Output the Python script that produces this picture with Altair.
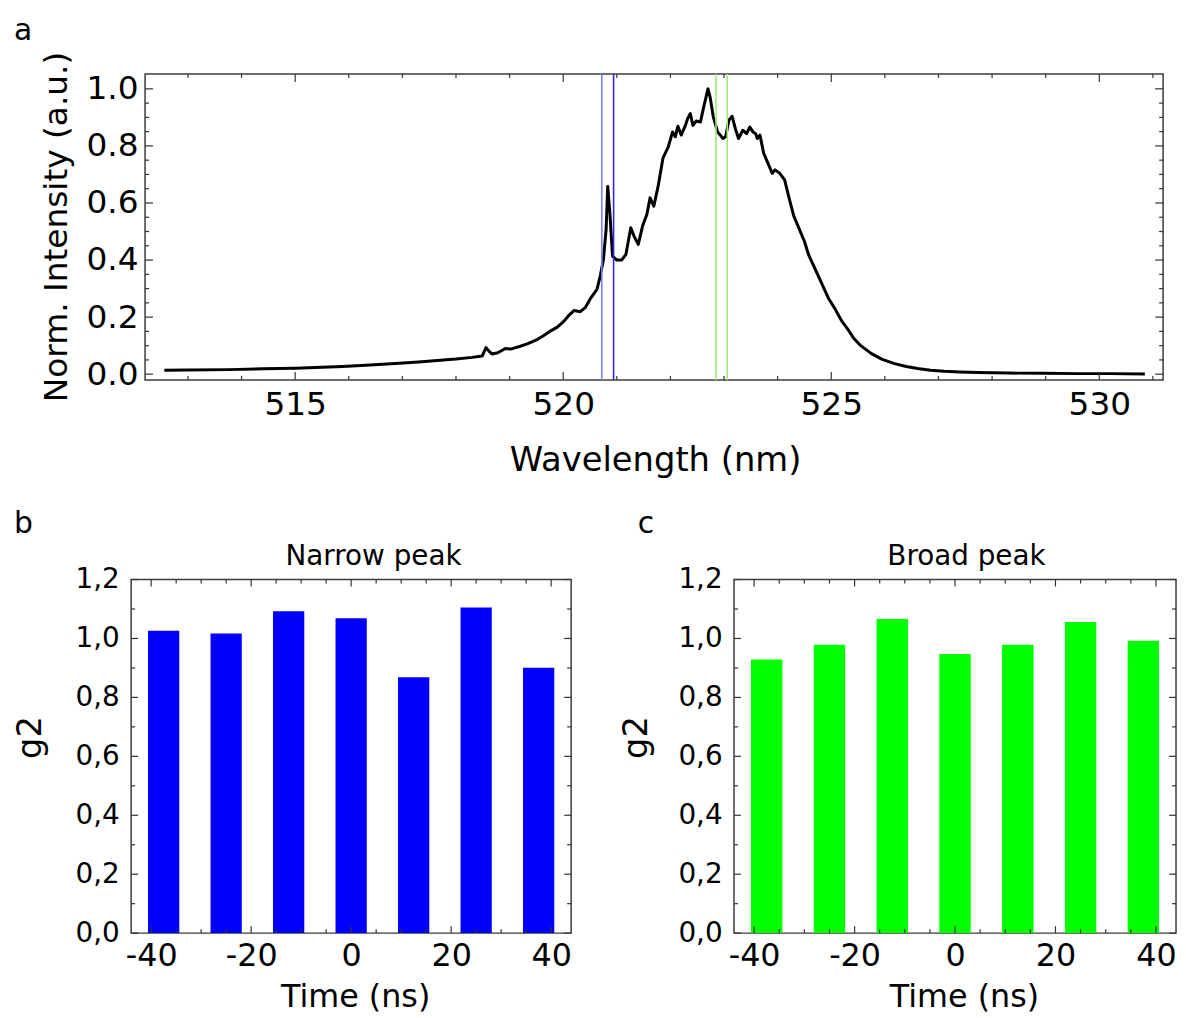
import altair as alt
import pandas as pd

# ---------------- data ----------------
wavelength = [512.56, 513.0, 513.76, 514.4, 515.0, 515.5, 515.88, 516.4, 516.94, 517.3,
              517.65, 518.0, 518.3, 518.49, 518.56, 518.62, 518.67, 518.78, 518.92, 519.02,
              519.2, 519.34, 519.5, 519.63, 519.75, 519.89, 520.01, 520.1, 520.2, 520.32,
              520.41, 520.5, 520.63, 520.69, 520.75, 520.80, 520.83, 520.87, 520.92, 521.00,
              521.09, 521.17, 521.26, 521.32, 521.40, 521.48, 521.56, 521.62, 521.69, 521.77,
              521.86, 521.96, 522.04, 522.09, 522.14, 522.20, 522.28, 522.32, 522.37, 522.42,
              522.48, 522.56, 522.62, 522.70, 522.74, 522.80, 522.88, 522.98, 523.03, 523.09,
              523.15, 523.21, 523.27, 523.35, 523.42, 523.48, 523.54, 523.59, 523.62, 523.67,
              523.74, 523.84, 523.90, 523.95, 524.04, 524.13, 524.21, 524.30, 524.40, 524.50,
              524.58, 524.70, 524.83, 524.95, 525.07, 525.2, 525.3, 525.41, 525.55, 525.75,
              525.95, 526.18, 526.4, 526.61, 526.85, 527.11, 527.4, 527.73, 528.3, 528.96,
              529.6, 530.20, 530.85]
intensity = [0.014, 0.015, 0.016, 0.019, 0.021, 0.024, 0.027, 0.032, 0.038, 0.043,
             0.048, 0.053, 0.059, 0.064, 0.093, 0.080, 0.071, 0.075, 0.090, 0.088,
             0.098, 0.107, 0.120, 0.135, 0.150, 0.165, 0.185, 0.205, 0.223, 0.219,
             0.233, 0.263, 0.297, 0.344, 0.402, 0.507, 0.658, 0.565, 0.414, 0.400,
             0.400, 0.420, 0.513, 0.484, 0.455, 0.519, 0.560, 0.618, 0.589, 0.658,
             0.757, 0.797, 0.849, 0.832, 0.869, 0.838, 0.872, 0.895, 0.913, 0.872,
             0.887, 0.884, 0.936, 1.000, 0.971, 0.901, 0.849, 0.826, 0.832, 0.890,
             0.904, 0.861, 0.826, 0.855, 0.843, 0.866, 0.849, 0.843, 0.826, 0.838,
             0.774, 0.730, 0.704, 0.716, 0.704, 0.681, 0.620, 0.555, 0.510, 0.465,
             0.417, 0.368, 0.315, 0.265, 0.229, 0.185, 0.160, 0.128, 0.100, 0.072,
             0.052, 0.037, 0.027, 0.020, 0.014, 0.010, 0.008, 0.006, 0.004, 0.003,
             0.002, 0.002, 0.001]

filter_lines_wl = [520.72, 520.94, 522.85, 523.06]
filter_lines_color = ["#7f7fff", "#2a2aff", "#a6e880", "#a6e880"]

time_ns = [-37.5, -25.0, -12.5, 0.0, 12.5, 25.0, 37.5]
g2_narrow = [1.026, 1.017, 1.092, 1.069, 0.868, 1.105, 0.901]
g2_broad = [0.929, 0.979, 1.066, 0.947, 0.979, 1.056, 0.992]

wl_major = [515, 520, 525, 530]
wl_minor = [513, 514, 516, 517, 518, 519, 521, 522, 523, 524, 526, 527, 528, 529, 531]
int_major = [0.0, 0.2, 0.4, 0.6, 0.8, 1.0]
int_minor = [0.05, 0.1, 0.15, 0.25, 0.3, 0.35, 0.45, 0.5, 0.55, 0.65, 0.7, 0.75, 0.85, 0.9, 0.95]
t_major = [-40, -20, 0, 20, 40]
t_minor = [-35, -30, -25, -15, -10, -5, 5, 10, 15, 25, 30, 35]
g2_major = [0.0, 0.2, 0.4, 0.6, 0.8, 1.0, 1.2]
g2_minor = [0.1, 0.3, 0.5, 0.7, 0.9, 1.1]

FONT = "DejaVu Sans"
LFONT = "DejaVu Sans"
TICK = "#333333"


def text_layer(s, x, y, size, font=FONT, angle=0, align="center"):
    return alt.Chart(pd.DataFrame({"s": [s]})).mark_text(
        font=font, fontSize=size, angle=angle, align=align, baseline="alphabetic", color="black"
    ).encode(x=alt.value(x), y=alt.value(y), text="s:N")


def anchor_layer(x, y0, y1):
    # invisible layout anchor (fixes the panel's outer bounds)
    return alt.Chart(pd.DataFrame({"a": [0]})).mark_rule(opacity=0, strokeWidth=0).encode(
        x=alt.value(x), y=alt.value(y0), y2=alt.value(y1))


def tick_layers(xvals, yvals, xscale, yscale, xaxis, yaxis, W, H, L_major, L_minor):
    layers = []
    for vals, L in ((xvals[0], L_major), (xvals[1], L_minor)):
        df = pd.DataFrame({"v": vals})
        base = alt.Chart(df).mark_rule(color=TICK, strokeWidth=1.2)
        layers.append(base.encode(x=alt.X("v:Q", scale=xscale, axis=xaxis), y=alt.value(H), y2=alt.value(H - L)))
        layers.append(base.encode(x=alt.X("v:Q", scale=xscale, axis=xaxis), y=alt.value(0), y2=alt.value(L)))
    for vals, L in ((yvals[0], L_major), (yvals[1], L_minor)):
        df = pd.DataFrame({"v": vals})
        base = alt.Chart(df).mark_rule(color=TICK, strokeWidth=1.2)
        layers.append(base.encode(y=alt.Y("v:Q", scale=yscale, axis=yaxis), x=alt.value(0), x2=alt.value(L)))
        layers.append(base.encode(y=alt.Y("v:Q", scale=yscale, axis=yaxis), x=alt.value(W), x2=alt.value(W - L)))
    return layers


# ---------------- panel a ----------------
W1, H1 = 1025, 308
xs1 = alt.Scale(domain=[512.2, 531.19], nice=False, zero=False)
ys1 = alt.Scale(domain=[-0.02, 1.052], nice=False, zero=False)
xax1 = alt.Axis(values=wl_major, ticks=False, tickSize=0, domain=False, grid=False,
                labelFont=FONT, labelFontSize=33, labelPadding=9, labelColor="black",
                labelFlush=False, title=None)
yax1 = alt.Axis(values=int_major, format=".1f", ticks=False, tickSize=0, domain=False, grid=False,
                labelFont=FONT, labelFontSize=33, labelPadding=7, labelColor="black",
                labelFlush=False, title=None)

spec_df = pd.DataFrame({"wl": wavelength, "I": intensity})
lines_df = pd.DataFrame({"wl": filter_lines_wl, "c": filter_lines_color})

vlines = alt.Chart(lines_df).mark_rule(strokeWidth=1.6).encode(
    x=alt.X("wl:Q", scale=xs1, axis=xax1),
    color=alt.Color("c:N", scale=None),
)
spectrum = alt.Chart(spec_df).mark_line(color="black", strokeWidth=3, strokeJoin="round").encode(
    x=alt.X("wl:Q", scale=xs1, axis=xax1),
    y=alt.Y("I:Q", scale=ys1, axis=yax1),
)

panel_a = alt.layer(
    spectrum, vlines,
    *tick_layers((wl_major, wl_minor), (int_major, int_minor), xs1, ys1, xax1, yax1, W1, H1, 8, 4),
    anchor_layer(-137, -62, 420),
    text_layer("a", -132, -34, 30, font=LFONT, align="left"),
    text_layer("Norm. Intensity (a.u.)", -79, 154, 33, angle=270),
    text_layer("Wavelength (nm)", 514, 400, 34),
).properties(width=W1, height=H1)

spacer = alt.Chart(pd.DataFrame({"a": [0]})).mark_rule(opacity=0, strokeWidth=0).encode(
    x=alt.value(0), y=alt.value(0), y2=alt.value(1)
).properties(width=1, height=1, view=alt.ViewBackground(stroke="transparent"))

top_row = alt.hconcat(spacer, panel_a, spacing=13, bounds="flush")


# ---------------- panels b, c ----------------
def g2_panel(values, color, W, title, title_x, letter, letter_x, g2_x, time_x, anchor_x):
    H = 356
    xs = alt.Scale(domain=[-44, 44], nice=False, zero=False)
    ys = alt.Scale(domain=[0, 1.2], nice=False, zero=False)
    xax = alt.Axis(values=t_major, ticks=False, tickSize=0, domain=False, grid=False,
                   labelExpr="datum.value < 0 ? '-' + format(-datum.value, 'd') : format(datum.value, 'd')",
                   labelFont=FONT, labelFontSize=32, labelPadding=8, labelColor="black",
                   labelFlush=False, title=None)
    yax = alt.Axis(values=g2_major, ticks=False, tickSize=0, domain=False, grid=False,
                   labelExpr="replace(format(datum.value, '.1f'), '.', ',')",
                   labelFont=FONT, labelFontSize=28, labelPadding=12, labelColor="black",
                   labelFlush=False, title=None)
    df = pd.DataFrame({"t": time_ns, "g": values})
    bars = alt.Chart(df).transform_calculate(
        t0="datum.t - 3.125", t1="datum.t + 3.125"
    ).mark_bar(color=color).encode(
        x=alt.X("t0:Q", scale=xs, axis=xax),
        x2="t1:Q",
        y=alt.Y("g:Q", scale=ys, axis=yax),
        y2=alt.datum(0),
    )
    layers = [bars,
              *tick_layers((t_major, t_minor), (g2_major, g2_minor), xs, ys, xax, yax, W, H, 7, 4)]
    if anchor_x is not None:
        layers.append(anchor_layer(anchor_x, -87, 100))
    layers += [
        text_layer(letter, letter_x, -47, 30, font=LFONT, align="left"),
        text_layer(title, title_x, -15, 28),
        text_layer("g2", g2_x, 159, 34, angle=270),
        text_layer("Time (ns)", time_x, 430, 32),
    ]
    return alt.layer(*layers).properties(width=W, height=H)


panel_b = g2_panel(g2_narrow, "#0000ff", 443, "Narrow peak", 244, "b", -118, -91, 226, -123)
panel_c = g2_panel(g2_broad, "#00ff00", 445, "Broad peak", 234, "c", -97, -88, 232, None)

bottom = alt.hconcat(panel_b, panel_c, spacing=164, bounds="flush")

chart = alt.concat(top_row, bottom, columns=1, spacing=0, align="none", bounds="full").properties(
    padding={"left": 0, "top": 0, "right": 0, "bottom": 0}
).configure_view(stroke="#3c3c3c", strokeWidth=1.5)

chart.save("out.html", embed_options={"renderer": "svg", "actions": False})
